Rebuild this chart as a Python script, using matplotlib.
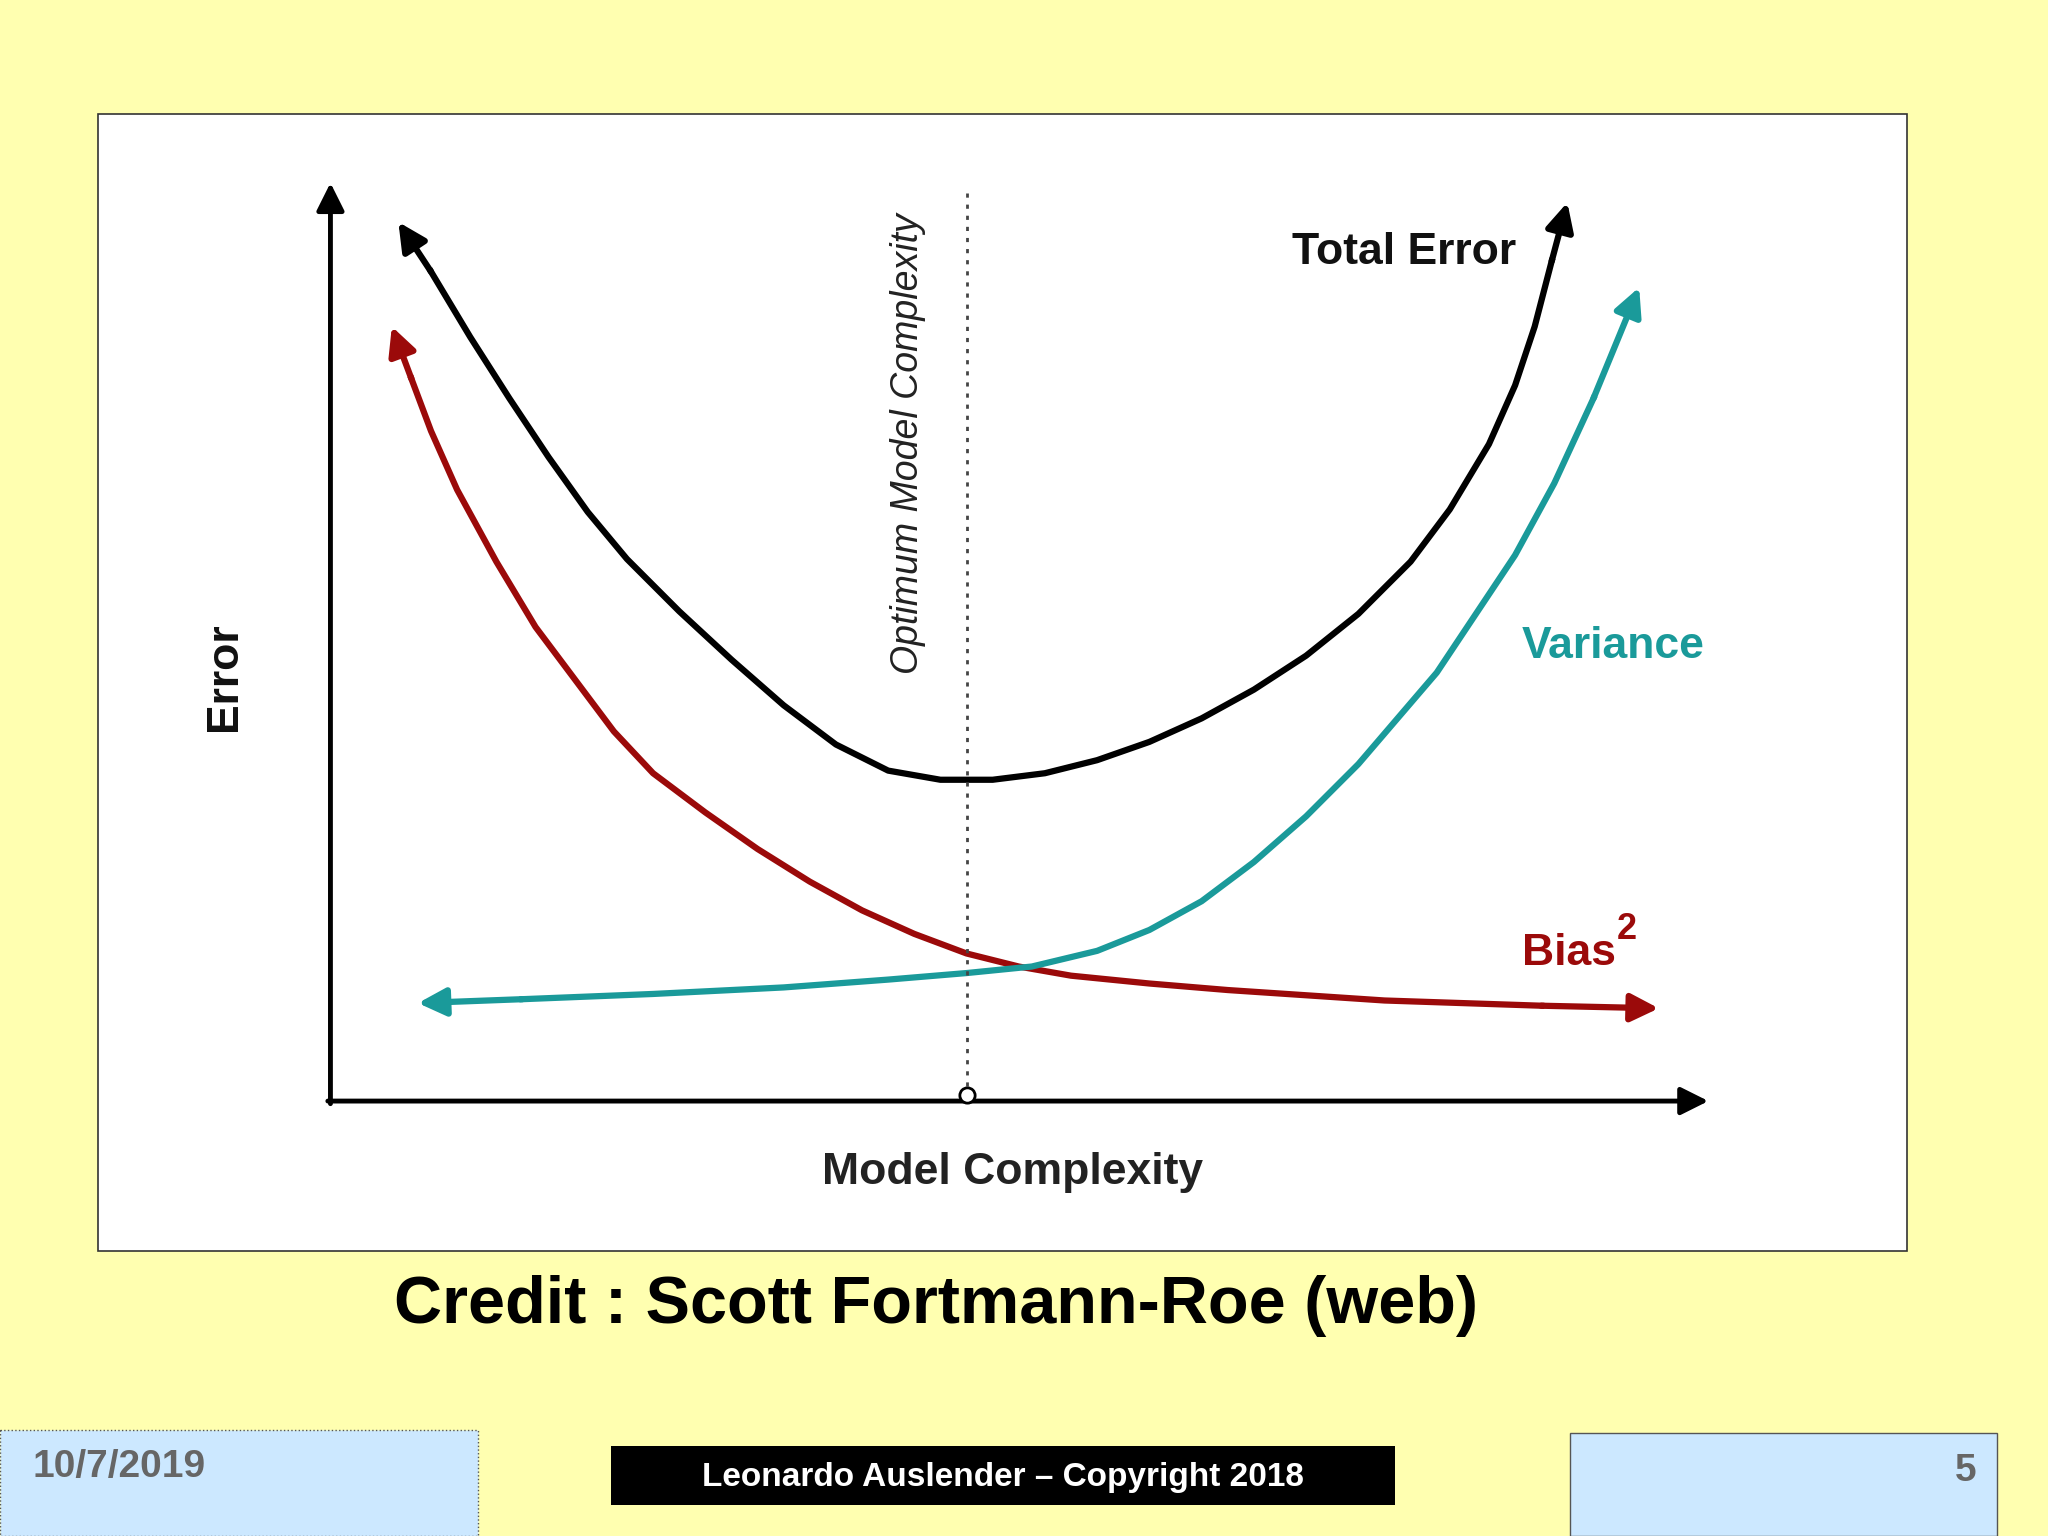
import matplotlib
matplotlib.use("Agg")
import matplotlib.pyplot as plt
from matplotlib.patches import Rectangle, FancyArrowPatch

W, H = 1568, 1176  # reference layout units

# curve samples (layout units, y grows downward)
total_x = [305, 330, 360, 390, 420, 450, 480, 520, 560, 600, 640, 680, 720, 760, 800, 840,
           880, 920, 960, 1000, 1040, 1080, 1110, 1140, 1160, 1175, 1188, 1200]
total_y = [170, 208, 258, 305, 350, 392, 428, 468, 505, 540, 570, 590, 597, 597, 592, 582,
           568, 550, 528, 502, 470, 430, 390, 340, 295, 250, 200, 155]
bias_x = [300, 315, 330, 350, 380, 410, 440, 470, 500, 540, 580, 620, 660, 700, 740, 780,
          820, 880, 940, 1000, 1060, 1120, 1180, 1270]
bias_y = [250, 290, 330, 375, 430, 480, 520, 560, 592, 622, 650, 675, 697, 715, 730, 740,
          747, 753, 758, 762, 766, 768, 770, 772]
var_x = [320, 400, 500, 600, 680, 740, 790, 840, 880, 920, 960, 1000, 1040, 1070, 1100,
         1130, 1160, 1190, 1220, 1255]
var_y = [768, 765, 761, 756, 750, 745, 740, 728, 712, 690, 660, 625, 585, 550, 515,
         470, 425, 370, 305, 220]

BG = "#ffffb0"
RED = "#9b0a0a"
TEAL = "#1a9a9a"
FONT = "Liberation Sans"

fig = plt.figure(figsize=(20.48, 15.36), dpi=100, facecolor=BG)
ax = fig.add_axes([0, 0, 1, 1])
ax.set_xlim(0, W)
ax.set_ylim(H, 0)
ax.axis("off")

ax.add_patch(Rectangle((75, 87), 1385, 871, facecolor="white", edgecolor="#333333", lw=1.2))


def head(p0, p1, color):
    ax.add_patch(FancyArrowPatch(p0, p1, arrowstyle="-|>", mutation_scale=42, color=color,
                                 lw=4.5, shrinkA=0, shrinkB=0))


def curve(xs, ys, color):
    ax.plot(xs[1:-1], ys[1:-1], color=color, lw=4.5, solid_joinstyle="round")
    head((xs[-2], ys[-2]), (xs[-1], ys[-1]), color)
    head((xs[1], ys[1]), (xs[0], ys[0]), color)


curve(bias_x, bias_y, RED)
curve(var_x, var_y, TEAL)
curve(total_x, total_y, "black")

# axes arrows
ax.add_patch(FancyArrowPatch((253, 845), (253, 140), arrowstyle="-|>", mutation_scale=42,
                             color="black", lw=3.5, shrinkA=0, shrinkB=0))
ax.add_patch(FancyArrowPatch((251, 843), (1308, 843), arrowstyle="-|>", mutation_scale=42,
                             color="black", lw=3.5, shrinkA=0, shrinkB=0))

# optimum line
ax.plot([740, 740], [148, 835], color="#444444", lw=2, ls=(0, (1.5, 2.5)))
ax.plot([740], [838], marker="o", ms=11, mfc="white", mec="black", mew=2)

ax.text(695, 340, "Optimum Model Complexity", rotation=90, style="italic", fontsize=27,
        ha="center", va="center", color="#222222", family=FONT)
ax.text(1075, 193, "Total Error", fontsize=32, fontweight="bold", ha="center", va="center",
        family=FONT, color="#111111")
ax.text(1235, 495, "Variance", fontsize=32, fontweight="bold", ha="center", va="center",
        color=TEAL, family=FONT)
ax.text(1165, 730, "Bias", fontsize=32, fontweight="bold", ha="left", va="center",
        color=RED, family=FONT)
ax.text(1238, 712, "2", fontsize=26, fontweight="bold", ha="left", va="center",
        color=RED, family=FONT)
ax.text(172, 518, "Error", rotation=90, fontsize=32, fontweight="bold", ha="center",
        va="center", family=FONT, color="#111111")
ax.text(775, 898, "Model Complexity", fontsize=32, fontweight="bold", ha="center",
        va="center", color="#222222", family=FONT)

ax.text(717, 1000, "Credit : Scott Fortmann-Roe (web)", fontsize=48, fontweight="bold",
        ha="center", va="center", family=FONT)

# footer
ax.add_patch(Rectangle((0, 1095), 366, 81, facecolor="#cce8ff", edgecolor="#555555", lw=1, ls=":"))
ax.text(25, 1123, "10/7/2019", fontsize=28, fontweight="bold", color="#666666", va="center",
        family=FONT)
ax.add_patch(Rectangle((468, 1107), 600, 45, facecolor="black"))
ax.text(768, 1131, "Leonardo Auslender \u2013 Copyright 2018", fontsize=24, fontweight="bold",
        color="white", ha="center", va="center", family=FONT)
ax.add_patch(Rectangle((1202, 1097), 327, 79, facecolor="#cce8ff", edgecolor="#555555", lw=1))
ax.text(1513, 1126, "5", fontsize=28, fontweight="bold", color="#666666", ha="right",
        va="center", family=FONT)

fig.savefig("out.png", dpi=100, facecolor=BG)
